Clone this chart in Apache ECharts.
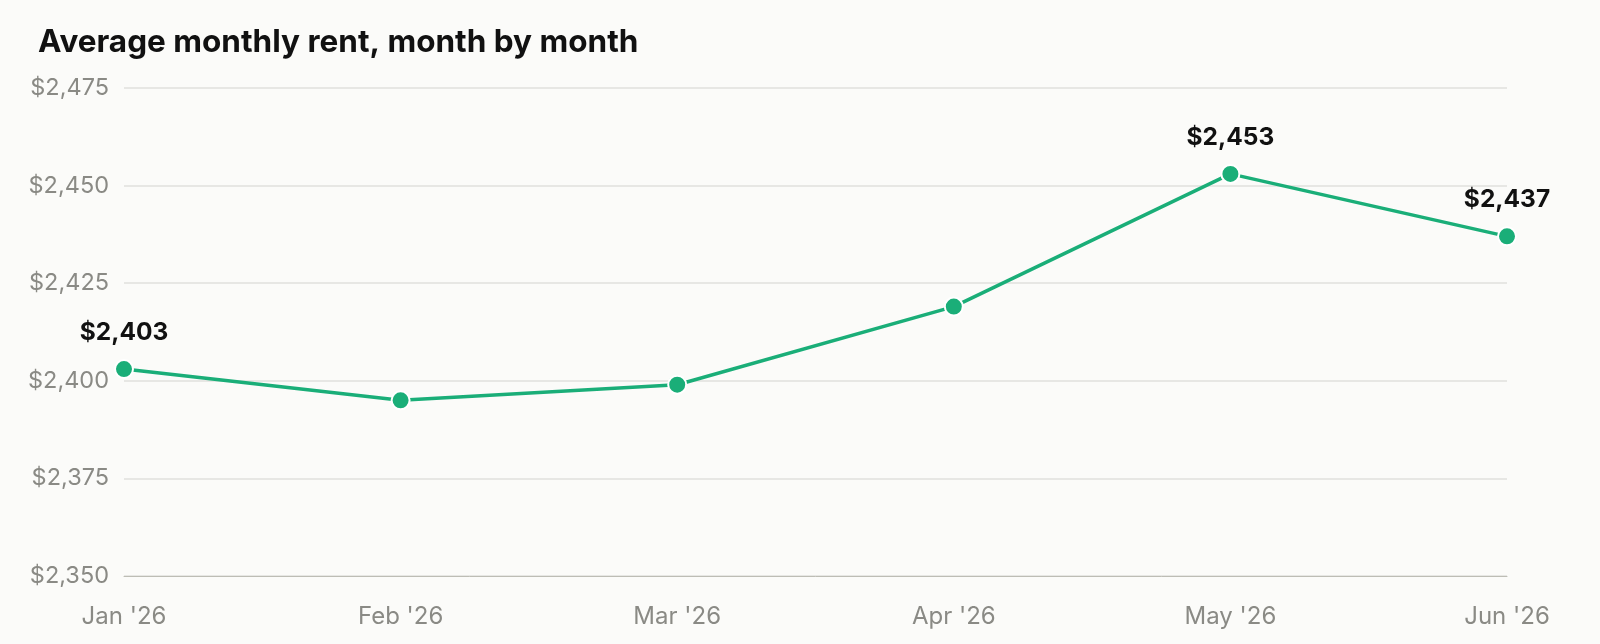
<!DOCTYPE html>
<html>
<head>
<meta charset="utf-8">
<script src="https://cdn.jsdelivr.net/npm/echarts@6/dist/echarts.min.js"></script>
<style>
  html, body { margin: 0; padding: 0; background: #fbfbf9; }
  #chart { width: 1600px; height: 644px; }
</style>
</head>
<body>
<div id="chart"></div>
<script>
// 数据
const months = ["Jan '26", "Feb '26", "Mar '26", "Apr '26", "May '26", "Jun '26"]
const rents = [2403, 2395, 2399, 2419, 2453, 2437]
const labelled = [0, 4, 5] // first, peak, last get a value label

const yMin = 2350
const yMax = 2475
const yStep = 25

const green = '#1aae78'
const fmt = v => '$' + v.toLocaleString('en-US')

const chart = echarts.init(document.getElementById('chart'))

const option = {
  backgroundColor: '#fbfbf9',
  animation: false,
  title: {
    text: 'Average monthly rent, month by month',
    left: 33,
    top: 22,
    textStyle: { fontFamily: 'Inter', fontSize: 31.5, fontWeight: 'bold', color: '#111' }
  },
  grid: { left: 124, right: 93, top: 88, bottom: 68 },
  xAxis: {
    type: 'category',
    data: months,
    boundaryGap: false,
    axisTick: { show: false },
    axisLine: { lineStyle: { color: '#bdbdb5', width: 1 } },
    axisLabel: { color: '#8a8a85', fontFamily: 'Inter', fontSize: 24, margin: 29 }
  },
  yAxis: {
    type: 'value',
    min: yMin,
    max: yMax,
    interval: yStep,
    axisLine: { show: false },
    axisTick: { show: false },
    splitLine: { lineStyle: { color: '#e1e1dc', width: 1.5 } },
    axisLabel: { color: '#8a8a85', fontFamily: 'Inter', fontSize: 23.5, margin: 15, formatter: fmt }
  },
  series: [{
    type: 'line',
    data: rents.map((v, i) => ({
      value: v,
      label: { show: labelled.includes(i) }
    })),
    symbol: 'circle',
    symbolSize: 18,
    lineStyle: { color: green, width: 3.5 },
    itemStyle: { color: green, borderColor: '#fff', borderWidth: 2 },
    label: {
      position: 'top',
      distance: 14,
      formatter: p => fmt(p.value),
      fontFamily: 'Inter',
      fontSize: 24.5,
      fontWeight: 'bold',
      color: '#111'
    }
  }]
}

chart.setOption(option)
</script>
</body>
</html>
